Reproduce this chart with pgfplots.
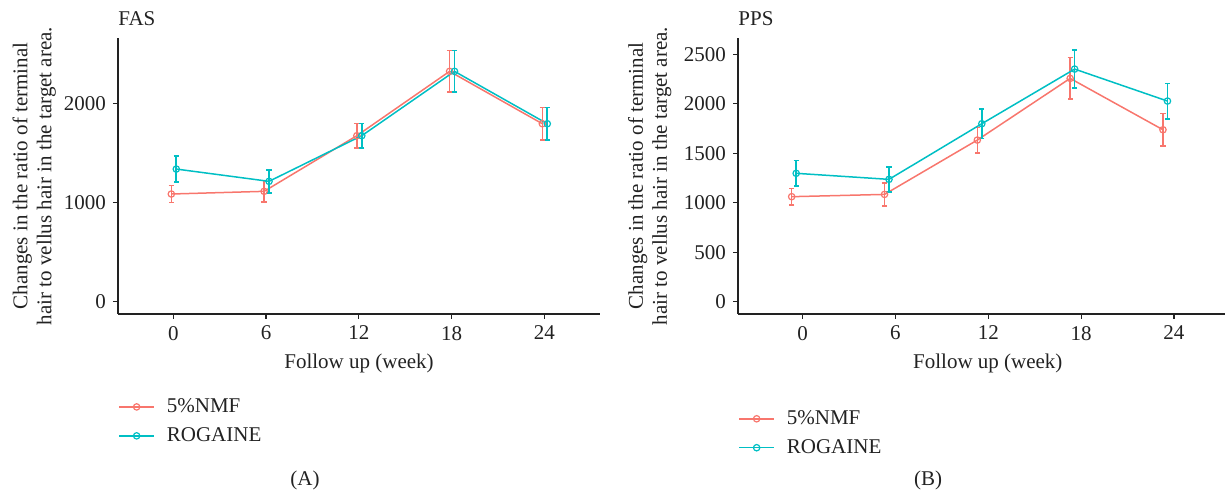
\documentclass[border=0pt]{standalone}
\usepackage{pgfplots}
\pgfplotsset{compat=1.18}
\usepackage{fontspec}
\setmainfont{Liberation Serif}
\definecolor{cred}{HTML}{F8766D}
\definecolor{cteal}{HTML}{00BFC4}
\definecolor{txt}{HTML}{222222}
\pgfplotsset{
  myax/.style={
    scale only axis,
    height=138pt,
    ymin=-124, ymax=2664,
    axis x line=bottom, axis y line=left,
    axis line style={-, line width=0.7pt, color=txt},
    tick align=outside, major tick length=2.5pt,
    tick style={line width=0.6pt, color=txt},
    xtick={0,6,12,18,24},
    /pgf/number format/assume math mode=true,
    /pgf/number format/1000 sep={},
    ticklabel style={font=\fontsize{10.5}{12}\selectfont, color=txt},
    label style={font=\fontsize{10.5}{12}\selectfont, color=txt},
    xlabel={Follow up (week)},
    ylabel={Changes in the ratio of terminal\\hair to vellus hair in the target area.},
    ylabel style={align=center, anchor=center, rotate=0},
    title style={font=\fontsize{10.5}{12}\selectfont, color=txt, anchor=base west, inner sep=0pt, at={(axis description cs:0,1)}, yshift=0pt},
    every axis plot/.append style={line width=0.75pt},
    legend style={draw=none, fill=none, font=\fontsize{10.5}{12}\selectfont, text=txt, cells={anchor=west}, row sep=2pt, inner sep=0pt},
    legend image code/.code={\draw[#1] (0pt,0pt) -- (17.5pt,0pt); \draw[#1, only marks] plot coordinates {(8.75pt,0pt)}; \path (21.5pt,0pt);},
  },
  nmf/.style={color=cred, mark=o, mark size=1.6pt, mark options={fill=white, solid, line width=0.6pt},
    error bars/.cd, y dir=both, y explicit, error bar style={line width=0.8pt, color=cred}, error mark options={rotate=90, mark size=1.3pt, line width=0.8pt, color=cred}},
  rog/.style={color=cteal, mark=o, mark size=1.6pt, mark options={fill=white, solid, line width=0.6pt},
    error bars/.cd, y dir=both, y explicit, error bar style={line width=0.8pt, color=cteal}, error mark options={rotate=90, mark size=1.3pt, line width=0.8pt, color=cteal}},
}
\begin{document}
\begin{tikzpicture}
\useasboundingbox (0,0) rectangle (613pt,246pt);
% Panel A
\begin{axis}[myax, at={(59pt,89pt)}, anchor=south west, width=241pt,
  xmin=-3.58, xmax=27.6, ytick={0,1000,2000},
  title={FAS},
  xlabel style={at={(axis description cs:0.5,0)}, anchor=center, yshift=-24.5pt},
  ylabel style={at={(axis description cs:-0.174,0.5)}},
  legend style={at={(axis description cs:0,-0.29)}, anchor=north west}]
\addplot+[nmf] coordinates {
  (-0.13,1088) +- (0,84)
  (5.87,1115) +- (0,108)
  (11.87,1677) +- (0,125)
  (17.87,2327) +- (0,210)
  (23.87,1798) +- (0,162)
};
\addplot+[rog] coordinates {
  (0.19,1340) +- (0,131)
  (6.19,1216) +- (0,117)
  (12.19,1677) +- (0,125)
  (18.19,2327) +- (0,210)
  (24.19,1798) +- (0,162)
};
\legend{5\%NMF, ROGAINE}
\end{axis}
% Panel B
\begin{axis}[myax, at={(369pt,89pt)}, anchor=south west, width=243.5pt,
  xmin=-4.18, xmax=27.3, ytick={0,500,1000,1500,2000,2500},
  title={PPS},
  xlabel style={at={(axis description cs:0.513,0)}, anchor=center, yshift=-24.5pt},
  ylabel style={at={(axis description cs:-0.181,0.5)}},
  legend style={at={(axis description cs:0,-0.333)}, anchor=north west}]
\addplot+[nmf] coordinates {
  (-0.71,1061) +- (0,84)
  (5.29,1084) +- (0,117)
  (11.29,1633) +- (0,128)
  (17.29,2256) +- (0,210)
  (23.29,1737) +- (0,165)
};
\addplot+[rog] coordinates {
  (-0.42,1297) +- (0,128)
  (5.58,1236) +- (0,125)
  (11.58,1798) +- (0,150)
  (17.58,2350) +- (0,190)
  (23.58,2027) +- (0,179)
};
\legend{5\%NMF, ROGAINE}
\end{axis}
\node[font=\fontsize{10.5}{12}\selectfont, text=txt] at (152.5pt,6pt) {(A)};
\node[font=\fontsize{10.5}{12}\selectfont, text=txt] at (464pt,6pt) {(B)};
\end{tikzpicture}
\end{document}
